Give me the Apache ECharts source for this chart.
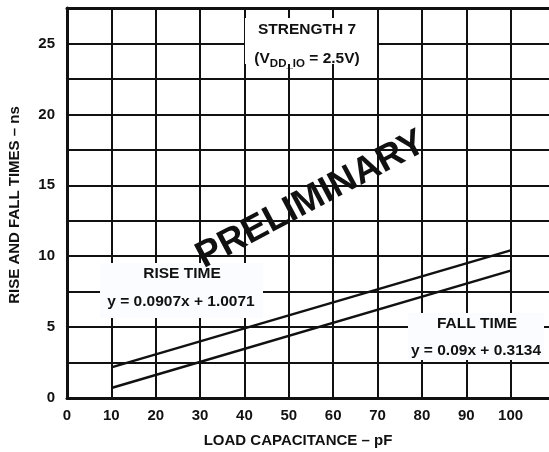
<!DOCTYPE html>
<html>
<head>
<meta charset="utf-8">
<script src="https://cdn.jsdelivr.net/npm/echarts@6/dist/echarts.min.js"></script>
<style>html,body{margin:0;padding:0;background:#fff;overflow:hidden;}#c{width:549px;height:452px;}</style>
</head>
<body>
<div id="c"></div>
<script>
// Data
const xTicks = [0, 10, 20, 30, 40, 50, 60, 70, 80, 90, 100];
const yTicks = [0, 5, 10, 15, 20, 25];
const riseX = [10, 100];
const riseY = [2.16, 10.41];
const fallX = [10, 100];
const fallY = [0.7, 8.98];
const riseLabel = ['RISE TIME', 'y = 0.0907x + 1.0071'];
const fallLabel = ['FALL TIME', 'y = 0.09x + 0.3134'];
const xTitle = 'LOAD CAPACITANCE – pF';
const yTitle = 'RISE AND FALL TIMES – ns';
const watermark = 'PRELIMINARY';

const F = 'Liberation Sans, Arial, sans-serif';
const ink = '#111';
const chart = echarts.init(document.getElementById('c'), null, {renderer: 'canvas'});

const font = (s) => 'bold ' + s + 'px ' + F;

chart.setOption({
  animation: false,
  backgroundColor: '#fff',
  grid: {left: 67, top: 8, width: 488, height: 390, containLabel: false, outerBoundsMode: 'none'},
  xAxis: [{
    type: 'value', min: 0, max: 110, interval: 10,
    axisLine: {show: true, lineStyle: {color: ink, width: 3}},
    axisTick: {show: false},
    axisLabel: {
      color: ink, fontFamily: F, fontWeight: 'bold', fontSize: 15, margin: 10,
      formatter: v => (xTicks.indexOf(v) >= 0 ? String(v) : '')
    },
    splitLine: {show: true, lineStyle: {color: ink, width: 2}}
  }, {
    type: 'value', min: 0, max: 110, position: 'top',
    axisLine: {show: true, lineStyle: {color: ink, width: 3}},
    axisTick: {show: false}, axisLabel: {show: false}, splitLine: {show: false}
  }],
  yAxis: {
    type: 'value', min: 0, max: 27.5, interval: 2.5,
    axisLine: {show: true, lineStyle: {color: ink, width: 3}},
    axisTick: {show: false},
    axisLabel: {
      color: ink, fontFamily: F, fontWeight: 'bold', fontSize: 15, margin: 12,
      formatter: v => (yTicks.indexOf(v) >= 0 ? String(v) : '')
    },
    splitLine: {show: true, lineStyle: {color: ink, width: 2}}
  },
  series: [
    {type: 'line', name: 'Rise', data: riseX.map((x, i) => [x, riseY[i]]), symbol: 'none',
     lineStyle: {color: ink, width: 2.5}, z: 5},
    {type: 'line', name: 'Fall', data: fallX.map((x, i) => [x, fallY[i]]), symbol: 'none',
     lineStyle: {color: ink, width: 2.5}, z: 5}
  ],
  graphic: [
    // label boxes
    {type: 'rect', shape: {x: 245, y: 18, width: 132, height: 46}, style: {fill: '#fff'}, z: 50},
    {type: 'rect', shape: {x: 100, y: 263, width: 163, height: 55}, style: {fill: '#fafcff'}, z: 50},
    {type: 'rect', shape: {x: 408, y: 313, width: 136, height: 47}, style: {fill: '#fafcff'}, z: 50},
    // strength text
    {type: 'text', x: 307, y: 30, z: 60,
     style: {text: 'STRENGTH 7', font: font(15.5), fill: ink, textAlign: 'center', textVerticalAlign: 'middle'}},
    {type: 'text', x: 307, y: 59, z: 60,
     style: {text: '{n|(V}{s|DD_IO}{n| = 2.5V)}', textAlign: 'center', textVerticalAlign: 'middle',
       rich: {
         n: {fill: ink, fontFamily: F, fontWeight: 'bold', fontSize: 15.5},
         s: {fill: ink, fontFamily: F, fontWeight: 'bold', fontSize: 11.5, padding: [9, 0, 0, 0]}
       }}},
    // rise label
    {type: 'text', x: 182, y: 274, z: 60,
     style: {text: riseLabel[0], font: font(15.5), fill: ink, textAlign: 'center', textVerticalAlign: 'middle'}},
    {type: 'text', x: 181, y: 302, z: 60,
     style: {text: riseLabel[1], font: font(15.5), fill: ink, textAlign: 'center', textVerticalAlign: 'middle'}},
    // fall label
    {type: 'text', x: 477, y: 324, z: 60,
     style: {text: fallLabel[0], font: font(15.5), fill: ink, textAlign: 'center', textVerticalAlign: 'middle'}},
    {type: 'text', x: 476, y: 351, z: 60,
     style: {text: fallLabel[1], font: font(15.5), fill: ink, textAlign: 'center', textVerticalAlign: 'middle'}},
    // watermark
    {type: 'text', x: 311, y: 200, rotation: 28 * Math.PI / 180, z: 60,
     style: {text: watermark, font: font(37), fill: ink, textAlign: 'center', textVerticalAlign: 'middle'}},
    // axis titles
    {type: 'text', x: 298, y: 441, z: 60,
     style: {text: xTitle, font: font(15), fill: ink, textAlign: 'center', textVerticalAlign: 'middle'}},
    {type: 'text', x: 15, y: 205, rotation: Math.PI / 2, z: 60,
     style: {text: yTitle, font: font(15), fill: ink, textAlign: 'center', textVerticalAlign: 'middle'}}
  ]
});
</script>
</body>
</html>
